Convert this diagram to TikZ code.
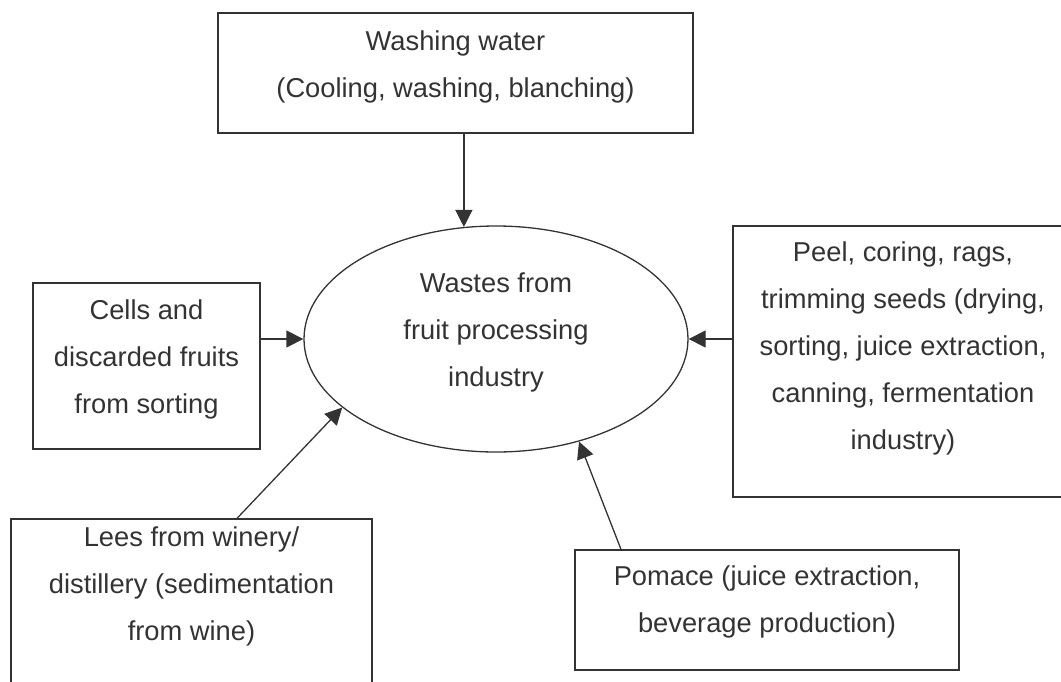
\documentclass[tikz,border=0pt]{standalone}
\usepackage{fontspec}
\setmainfont{Liberation Sans}
\usetikzlibrary{arrows.meta,calc,shapes.geometric}
\definecolor{ink}{HTML}{333333}
\tikzset{
  box/.style={draw=ink, line width=1.3pt, rectangle, inner sep=0pt},
  oval/.style={draw=ink, line width=1.3pt, ellipse, inner sep=0pt, minimum width=384pt, minimum height=226pt},
  txt/.style={text=ink, align=center, anchor=base, inner sep=0pt, font=\fontsize{27.3}{47}\selectfont},
  arr/.style={draw=ink, line width=1.3pt, -{Triangle[length=17pt,width=17pt]}}
}
\begin{document}
\begin{tikzpicture}[x=1pt,y=-1pt]
\useasboundingbox (0,0) rectangle (1061,681);
\clip (0,0) rectangle (1061,681);
% boxes
\node[box, minimum width=475pt, minimum height=120pt] (top) at (455.5,73) {};
\node[box, minimum width=227pt, minimum height=166pt] (cells) at (146.5,366) {};
\node[box, minimum width=340pt, minimum height=271pt] (peel) at (903,361.5) {};
\node[box, minimum width=361pt, minimum height=181pt] (lees) at (191.5,609.5) {};
\node[box, minimum width=384pt, minimum height=120pt] (pomace) at (767,610) {};
\node[oval] (ell) at (496,339) {};
% texts (anchored at the baseline of the last line)
\node[txt] (ttop) at (455.5,97) {Washing water\\(Cooling, washing, blanching)};
\node[txt] (tcells) at (146.5,413) {Cells and\\discarded fruits\\from sorting};
\node[txt] (tell) at (496,386) {Wastes from\\fruit processing\\industry};
\node[txt] (tpeel) at (903,449) {Peel, coring, rags,\\trimming seeds (drying,\\sorting, juice extraction,\\canning, fermentation\\industry)};
\node[txt] (tlees) at (191.5,640) {Lees from winery/\\distillery (sedimentation\\from wine)};
\node[txt] (tpomace) at (767,632) {Pomace (juice extraction,\\beverage production)};
% connectors
\draw[arr] (top.south -| ell.106.5) -- (ell.106.5);
\draw[arr] (cells.east |- ell.west) -- (ell.west);
\draw[arr] (peel.west |- ell.east) -- (ell.east);
\draw[arr] ($(lees.north)+(45.5,0)$) -- (ell.204.5);
\draw[arr] ($(pomace.north)+(-146,0)$) -- (ell.309.6);
\end{tikzpicture}
\end{document}
